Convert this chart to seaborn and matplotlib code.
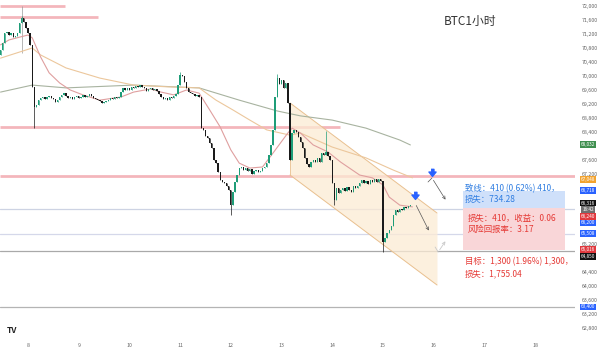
"""BTC 1h chart with descending channel, MAs and a position tool."""

import matplotlib
matplotlib.use("Agg")
import matplotlib.pyplot as plt
import numpy as np
import pandas as pd
import seaborn as sns

# ------------------------------------------------------------------ data
START_HOUR = -13          # first candle: day 7, 11:00
OPEN0 = 70600
CLOSES = [
    70740, 70940, 71230, 71260, 71170, 71230, 71110, 71140, 71230, 71510,
    71660, 71540, 71370, 71230, 70890, 69690, 69110, 69170, 69310, 69370,
    69400, 69340, 69400, 69430, 69370, 69340, 69260, 69310, 69400, 69460,
    69510, 69430, 69370, 69400, 69340, 69400, 69430, 69370, 69400, 69460,
    69400, 69430, 69490, 69430, 69370, 69340, 69310, 69290, 69230, 69260,
    69290, 69310, 69370, 69340, 69400, 69370, 69400, 69540, 69660, 69600,
    69660, 69600, 69690, 69660, 69710, 69690, 69740, 69690, 69660, 69570,
    69630, 69660, 69600, 69630, 69570, 69490, 69400, 69340, 69370, 69310,
    69400, 69370, 69430, 69490, 69740, 70030, 70000, 69830, 69660, 69540,
    69510, 69490, 69430, 69460, 69400, 68510, 68460, 68290, 68230, 68090,
    67940, 67600, 67510, 67260, 67030, 66970, 66940, 66860, 66740, 66310,
    66690, 66970, 67170, 67370, 67400, 67310, 67370, 67290, 67340, 67200,
    67290, 67310, 67260, 67290, 67370, 67400, 67510, 67740, 68030, 68460,
    69400, 69940, 69770, 69890, 69660, 69800, 69230, 67600, 68370, 68460,
    68400, 68260, 68110, 67940, 67660, 67490, 67400, 67540, 67600, 67540,
    67660, 67540, 67800, 67740, 67830, 67710, 67600, 66940, 66460, 66800,
    66660, 66740, 66800, 66710, 66830, 66740, 66690, 66860, 66800, 66860,
    66940, 67030, 66940, 67000, 66910, 67030, 66970, 67060, 66970, 67060,
    67000, 65260, 65370, 65510, 65600, 65710, 66030, 66170, 66110, 66200,
    66170, 66260, 66230, 66290, 66316,
]
WICK_HIGH = {10: 71720, 85: 70110, 131: 70060, 154: 68430}
WICK_LOW = {16: 68510, 109: 66030, 158: 66310, 181: 64970}

# moving averages, read at sample points (hours from day 8 00:00, price)
MA_FAST_H = [-13, -9, -4, 0, 2, 6, 10, 15, 20, 26, 34, 44, 50, 58, 63, 69, 75,
             81, 86, 91, 96, 100, 105, 111, 116, 123, 125, 129, 135, 142, 148,
             157, 163, 168, 171, 176, 182]
MA_FAST_P = [70890, 71030, 71110, 71170, 71090, 70540, 70090, 69800, 69600,
             69460, 69310, 69400, 69540, 69630, 69540, 69460, 69600, 69510,
             69030, 68540, 67890, 67510, 67370, 67400, 67800, 68370, 68510,
             68370, 68030, 67830, 67540, 67170, 67090, 66890, 66540, 66310,
             66260]
MA_MID_H = [-13, 2, 6, 18, 34, 50, 66, 81, 89, 97, 105, 113, 124, 129, 144,
            160, 173, 182]
MA_MID_P = [70510, 70800, 70600, 70230, 69940, 69740, 69690, 69660, 69310,
            69030, 68740, 68460, 68310, 68370, 67970, 67660, 67310, 67090]
MA_SLOW_H = [-13, 2, 18, 50, 81, 100, 118, 129, 144, 160, 176, 181]
MA_SLOW_P = [69540, 69740, 69660, 69740, 69660, 69310, 69000, 68860, 68740,
             68510, 68170, 68030]

# horizontal zones (price, end day; None = full width)
ZONE_PRICES = [72000, 71686, 68543, 67143]
ZONE_ENDS = [8.73, 9.38, 14.15, None]
THIN_PRICES = [66200, 65486, 65000, 63400]
THIN_COLORS = ["#cdd3e3", "#d5d8ea", "#a9a9a9", "#b4b4b4"]

# descending channel
CH_DAYS = [13.168, 16.067]
CH_TOP = [69229, 66086]
CH_BOT = [67171, 64029]

# position tool
POS_DAYS = [16.58, 18.59]
STOP_P = 66700
ENTRY_P = 66230
TARGET_P = 65015

Y_TICKS = [72000, 71600, 71200, 70800, 70400, 70000, 69600, 69200, 68800,
           68400, 67600, 67200, 65200, 64400, 64000, 63600, 63200, 62800]
PRICE_TAGS = [
    (68032, "68,032", "#3f8f4f"),
    (67048, "67,048", "#f2a32f"),
    (66718, "66,718", "#2962ff"),
    (66370, "66,316", "#111111"),
    (66180, "16:42", "#6f6f6f"),
    (65990, "66,240", "#e0393e"),
    (65800, "66,200", "#2962ff"),
    (65500, "65,508", "#2962ff"),
    (65030, "65,016", "#e0393e"),
    (64840, "64,850", "#111111"),
    (63400, "63,400", "#2962ff"),
]
DAYS = list(range(8, 19))


def day(hour):
    return 8 + np.asarray(hour, dtype=float) / 24.0


def main() -> None:
    sns.set_theme(style="white")
    plt.rcParams["font.family"] = ["Noto Sans CJK SC", "DejaVu Sans"]

    fig = plt.figure(figsize=(6, 3.52), dpi=100)
    ax = fig.add_axes([0, 12 / 352, 575 / 600, 340 / 352])
    ax.set_xlim(7.4477, 18.789)
    ax.set_ylim(62457, 72171)

    # zones and levels
    for p, end in zip(ZONE_PRICES, ZONE_ENDS):
        ax.hlines(p, 7.4477, end if end else 18.789, color="#f2aab0",
                  lw=2.0, alpha=0.85, zorder=1)
    for p, c in zip(THIN_PRICES, THIN_COLORS):
        ax.axhline(p, color=c, lw=0.9, zorder=1)

    # channel
    ax.fill_between(CH_DAYS, CH_BOT, CH_TOP, color="#fcebd4", alpha=0.75,
                    lw=0, zorder=1)
    ax.plot(CH_DAYS, CH_TOP, color="#e9c08f", lw=0.7, zorder=2)
    ax.plot(CH_DAYS, CH_BOT, color="#e9c08f", lw=0.7, zorder=2)
    ax.plot([CH_DAYS[0]] * 2, [CH_BOT[0], CH_TOP[0]], color="#e9c08f",
            lw=0.6, zorder=2)

    # moving averages
    ma = pd.concat([
        pd.DataFrame({"t": day(MA_SLOW_H), "p": MA_SLOW_P, "ma": "slow"}),
        pd.DataFrame({"t": day(MA_MID_H), "p": MA_MID_P, "ma": "mid"}),
        pd.DataFrame({"t": day(MA_FAST_H), "p": MA_FAST_P, "ma": "fast"}),
    ])
    sns.lineplot(data=ma, x="t", y="p", hue="ma", sort=False, estimator=None,
                 palette={"slow": "#a8b3a0", "mid": "#ecc79c",
                          "fast": "#df9f9f"},
                 lw=0.8, legend=False, ax=ax, zorder=3)

    # candles
    closes = np.array(CLOSES, dtype=float)
    opens = np.concatenate([[OPEN0], closes[:-1]])
    t = day(np.arange(len(closes)) + START_HOUR)
    highs = np.maximum(opens, closes)
    lows = np.minimum(opens, closes)
    for i, v in WICK_HIGH.items():
        highs[i] = v
    for i, v in WICK_LOW.items():
        lows[i] = v
    up = closes >= opens
    colors = np.where(up, "#1f9d78", "#1a1a1a")
    ax.vlines(t, lows, highs, colors=colors, lw=0.5, zorder=4)
    body = np.maximum(np.abs(closes - opens), 18)
    ax.bar(t, body, bottom=np.minimum(opens, closes), width=0.65 / 24,
           color=colors, lw=0, zorder=5)

    ax.vlines(7.882, 70657, 72000, color="#9a9a9a", lw=0.5, zorder=2)

    # position tool
    ax.fill_between(POS_DAYS, ENTRY_P, STOP_P, color="#cfe0fa", lw=0, zorder=1)
    ax.fill_between(POS_DAYS, TARGET_P, ENTRY_P, color="#f9d6d8", lw=0,
                    zorder=1)
    blue, red = "#2f7de1", "#e53935"
    ax.text(16.62, 66790, "致线：410 (0.62%) 410，", color=blue, fontsize=6,
            va="center", zorder=6)
    ax.text(16.62, 66470, "损失：734.28", color=blue, fontsize=6,
            va="center", zorder=6)
    ax.text(16.68, 65943, "损失：410，收益：0.06", color=red, fontsize=6,
            va="center", zorder=6)
    ax.text(16.68, 65629, "风险回报率：3.17", color=red, fontsize=6,
            va="center", zorder=6)
    ax.text(16.62, 64686, "目标：1,300 (1.96%) 1,300，", color=red,
            fontsize=6, va="center", zorder=6)
    ax.text(16.62, 64343, "损失：1,755.04", color=red, fontsize=6,
            va="center", zorder=6)

    # projected path arrows
    arrow_marker = [(-0.35, 1), (0.35, 1), (0.35, 0.35), (0.85, 0.35),
                    (0, -0.7), (-0.85, 0.35), (-0.35, 0.35)]
    ax.plot([15.968, 15.633], [67229, 66560], ls="", marker=arrow_marker,
            ms=6, color="#2962ff", zorder=7)
    ax.plot([15.89, 15.968], [66971, 67086], color="#555", lw=0.5, zorder=6)
    ax.annotate("", xy=(16.264, 66400), xytext=(15.968, 67086),
                arrowprops=dict(arrowstyle="->", color="#555", lw=0.5,
                                mutation_scale=5), zorder=6)
    ax.annotate("", xy=(15.93, 65514), xytext=(15.633, 66371),
                arrowprops=dict(arrowstyle="->", color="#555", lw=0.5,
                                mutation_scale=5), zorder=6)
    ax.plot([16.03, 16.09], [65114, 64971], color="#c9c9c9", lw=0.6, zorder=6)
    ax.annotate("", xy=(16.264, 65343), xytext=(16.09, 64971),
                arrowprops=dict(arrowstyle="->", color="#c9c9c9", lw=0.6,
                                mutation_scale=5), zorder=6)

    ax.text(16.72, 71543, "BTC1小时", fontsize=8.5, color="#333",
            ha="center", va="center")
    ax.text(0.012, 0.022, "TV", transform=ax.transAxes, fontsize=6,
            fontweight="bold", color="#222")

    # axes
    for s in ax.spines.values():
        s.set_visible(False)
    ax.set_xticks(DAYS)
    ax.set_xticklabels([str(d) for d in DAYS])
    ax.yaxis.tick_right()
    ax.set_yticks(Y_TICKS)
    ax.set_yticklabels([f"{v:,}" for v in Y_TICKS])
    ax.tick_params(axis="both", length=0, labelsize=3.8, colors="#666")
    ax.tick_params(axis="y", pad=5)
    ax.tick_params(axis="x", pad=2)
    ax.set_xlabel("")
    ax.set_ylabel("")
    ax.grid(False)

    for p, label, c in PRICE_TAGS:
        ax.text(1.0226, p, label, transform=ax.get_yaxis_transform(),
                fontsize=3.4, color="white", ha="center", va="center",
                bbox=dict(boxstyle="square,pad=0.2", fc=c, ec="none"),
                clip_on=False, zorder=8)

    fig.savefig("out.png", dpi=100)
    plt.close(fig)


if __name__ == "__main__":
    main()
